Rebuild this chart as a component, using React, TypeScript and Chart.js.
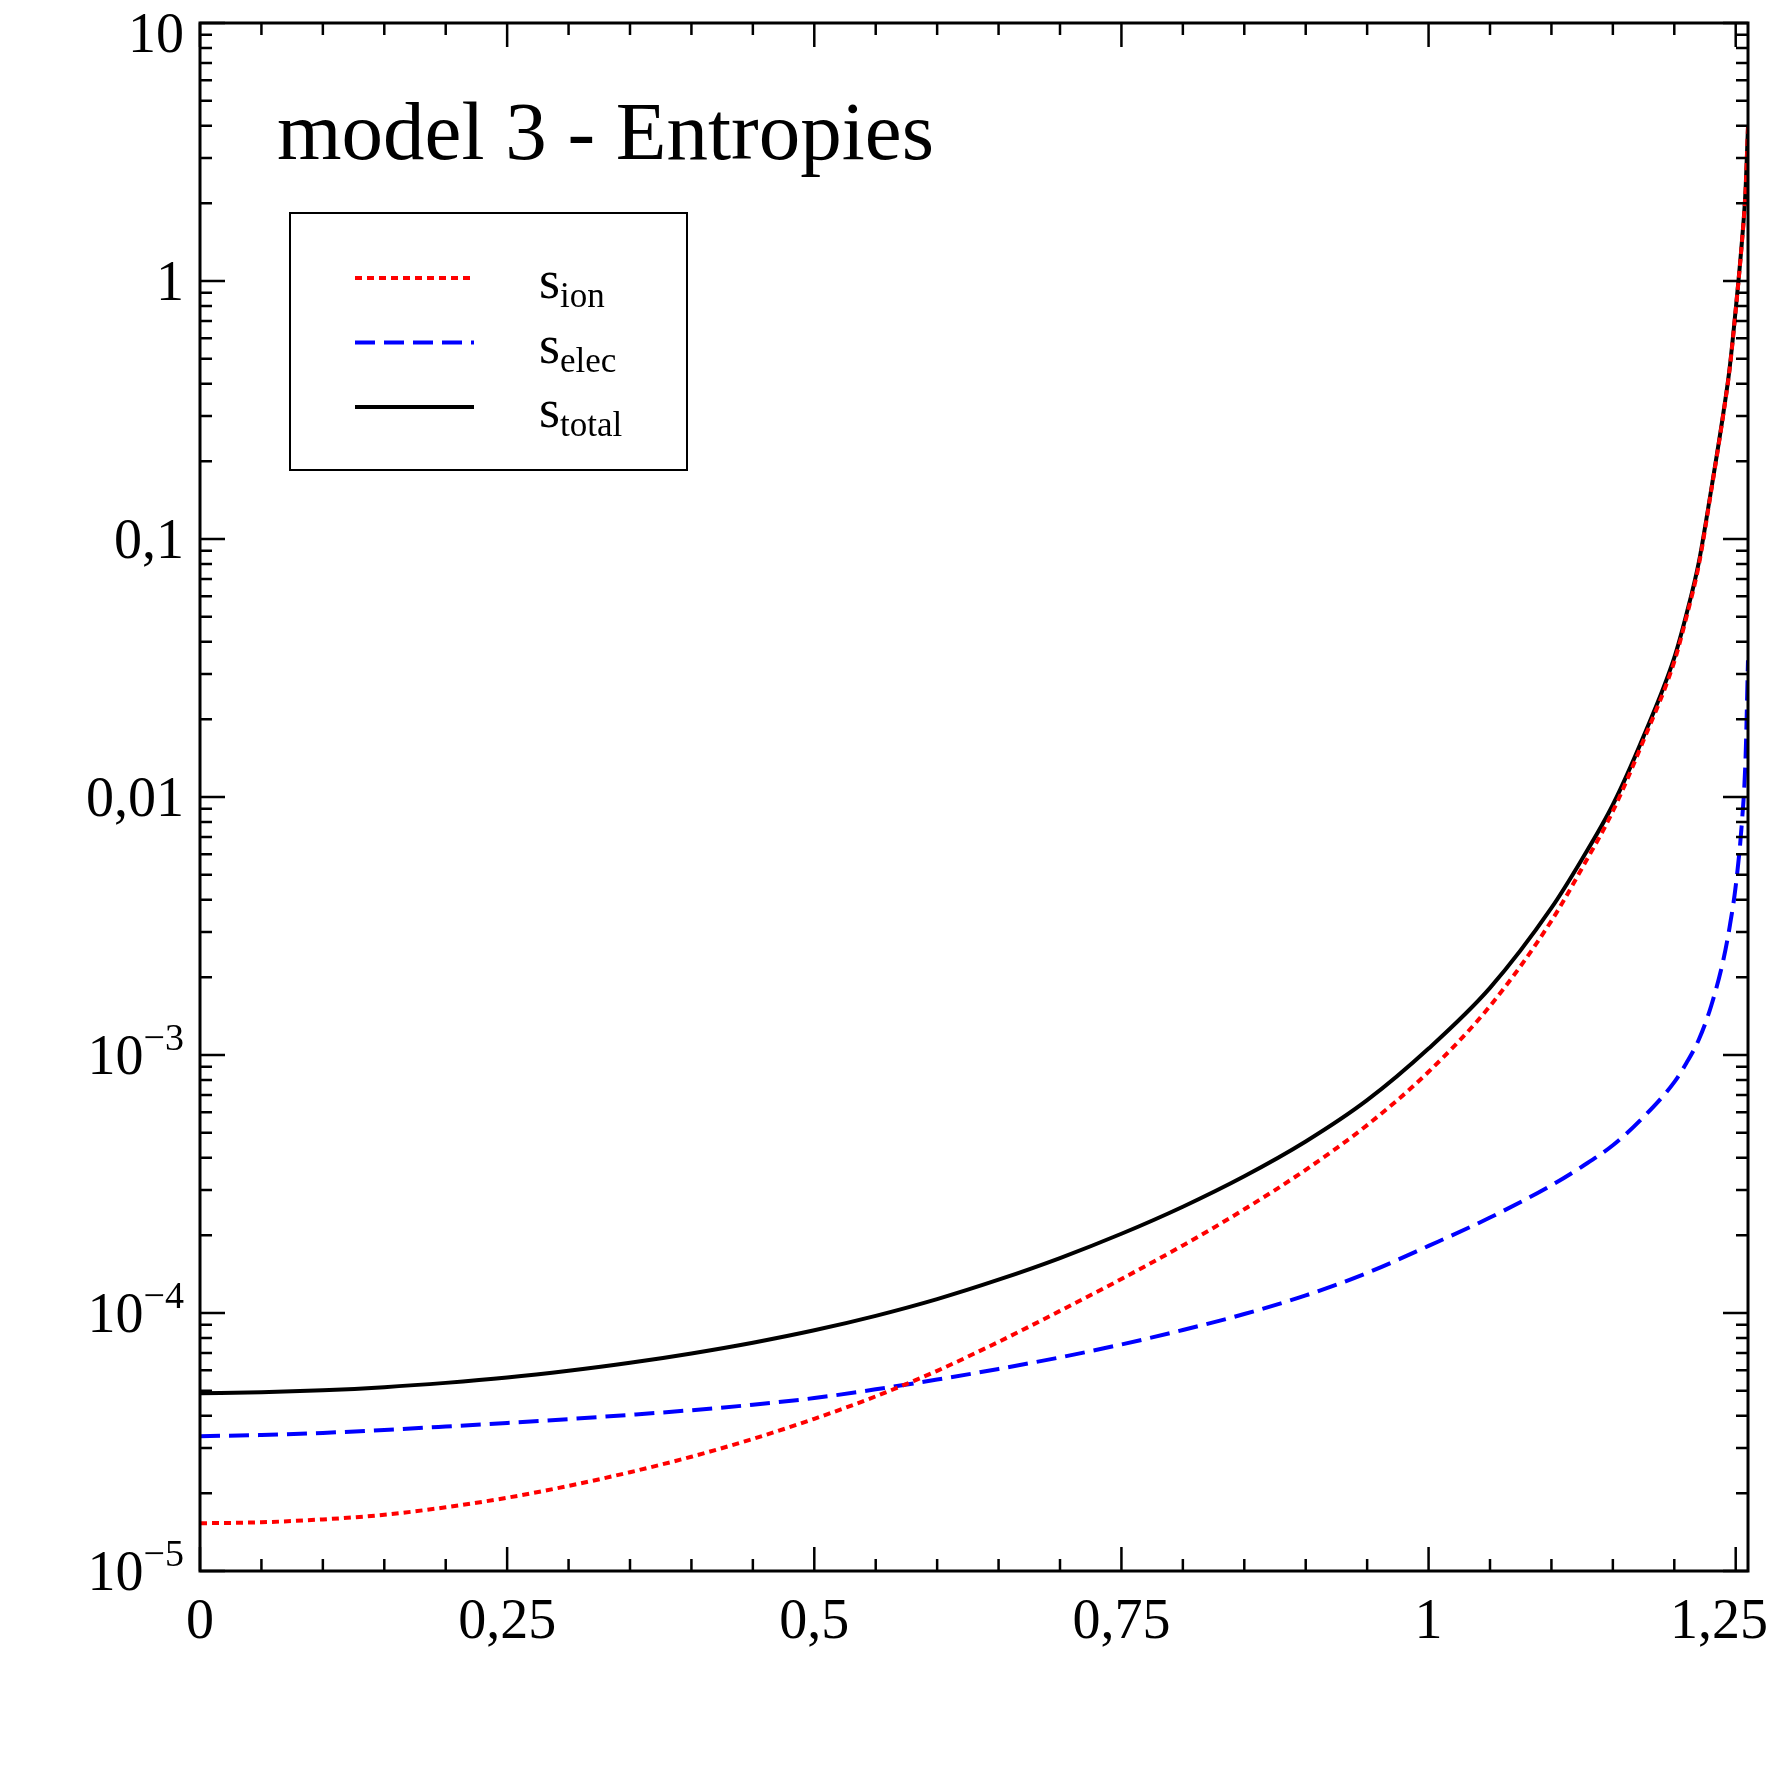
import { useEffect, useRef } from 'react'
import { Chart, registerables } from 'chart.js'
Chart.register(...registerables)

// values
const xValues = [
  0, 0.05, 0.1, 0.15, 0.2, 0.25, 0.3, 0.35, 0.4, 0.45, 0.5, 0.55, 0.6, 0.65, 0.7, 0.75,
  0.8, 0.85, 0.9, 0.95, 1.0, 1.05, 1.1, 1.125, 1.15, 1.175, 1.2, 1.21, 1.22, 1.23, 1.24,
  1.245, 1.25, 1.255, 1.258, 1.26,
]
const sIon = [
  1.531e-5, 1.545e-5, 1.585e-5, 1.652e-5, 1.766e-5, 1.923e-5, 2.138e-5, 2.415e-5, 2.773e-5,
  3.251e-5, 3.89e-5, 4.753e-5, 5.97e-5, 7.73e-5, 1.019e-4, 1.355e-4, 1.828e-4, 2.523e-4,
  3.59e-4, 5.35e-4, 8.61e-4, 1.549e-3, 3.311e-3, 5.31e-3, 8.81e-3, 0.0166, 0.0335, 0.0501,
  0.0794, 0.1531, 0.3062, 0.4529, 0.7709, 1.403, 2.223, 3.945,
]
const sElec = [
  3.33e-5, 3.365e-5, 3.43e-5, 3.52e-5, 3.63e-5, 3.75e-5, 3.88e-5, 4.03e-5, 4.2e-5, 4.41e-5,
  4.68e-5, 5.06e-5, 5.52e-5, 6.07e-5, 6.73e-5, 7.55e-5, 8.59e-5, 9.91e-5, 1.17e-4, 1.43e-4,
  1.82e-4, 2.344e-4, 3.126e-4, 3.698e-4, 4.467e-4, 5.754e-4, 7.852e-4, 9.33e-4, 1.148e-3,
  1.549e-3, 2.344e-3, 3.126e-3, 4.519e-3, 7.94e-3, 0.0141, 0.0339,
]
const sTotal = [
  4.89e-5, 4.93e-5, 5.02e-5, 5.16e-5, 5.36e-5, 5.62e-5, 5.97e-5, 6.41e-5, 6.97e-5, 7.67e-5,
  8.57e-5, 9.75e-5, 1.132e-4, 1.346e-4, 1.633e-4, 2.028e-4, 2.582e-4, 3.388e-4, 4.62e-4,
  6.68e-4, 1.059e-3, 1.82e-3, 3.715e-3, 5.75e-3, 9.33e-3, 0.01718, 0.03467, 0.0513, 0.0813,
  0.1549, 0.309, 0.457, 0.776, 1.413, 2.239, 3.98,
]
const xTickValues = [0, 0.25, 0.5, 0.75, 1, 1.25]
const xTickLabels = ['0', '0,25', '0,5', '0,75', '1', '1,25']
const yTickValues = [1e-5, 1e-4, 1e-3, 0.01, 0.1, 1, 10]
const yTickLabels = ['10^\u22125', '10^\u22124', '10^\u22123', '0,01', '0,1', '1', '10']
const legendSubs = ['ion', 'elec', 'total']
const title = 'model 3 - Entropies'

const FONT = '"Liberation Serif", "Times New Roman", serif'

const decorPlugin = {
  id: 'decor',
  afterDraw(chart: any) {
    const { ctx, chartArea: a, scales } = chart
    const xs = scales.x
    const ys = scales.y
    ctx.save()
    ctx.strokeStyle = '#000'
    ctx.fillStyle = '#000'
    ctx.setLineDash([])

    // frame
    ctx.lineWidth = 3
    ctx.strokeRect(a.left, a.top, a.right - a.left, a.bottom - a.top)

    // inward ticks on all four sides
    ctx.lineWidth = 2.5
    ctx.beginPath()
    for (let i = 0; i <= 25; i++) {
      const px = xs.getPixelForValue(i * 0.05)
      const len = i % 5 === 0 ? 24 : 12
      ctx.moveTo(px, a.bottom); ctx.lineTo(px, a.bottom - len)
      ctx.moveTo(px, a.top); ctx.lineTo(px, a.top + len)
    }
    for (let k = -5; k <= 1; k++) {
      for (let m = 1; m <= 9; m++) {
        if (k === 1 && m > 1) break
        const py = ys.getPixelForValue(m * Math.pow(10, k))
        const len = m === 1 ? 25 : 12
        ctx.moveTo(a.left, py); ctx.lineTo(a.left + len, py)
        ctx.moveTo(a.right, py); ctx.lineTo(a.right - len, py)
      }
    }
    ctx.stroke()

    // x tick labels
    ctx.font = `56px ${FONT}`
    ctx.textBaseline = 'alphabetic'
    ctx.textAlign = 'left'
    xTickValues.forEach((v, i) => {
      const label = xTickLabels[i]
      const w = ctx.measureText(label).width
      let left = xs.getPixelForValue(v) - w / 2
      if (left + w > chart.width - 3) left = chart.width - 3 - w
      ctx.fillText(label, left, a.bottom + 67)
    })

    // y tick labels (with superscripts)
    const right = a.left - 16
    yTickValues.forEach((v, i) => {
      const py = ys.getPixelForValue(v)
      const base = Math.max(py + 19, 52)
      const [main, exp] = yTickLabels[i].split('^')
      ctx.textAlign = 'right'
      if (exp) {
        ctx.font = `38px ${FONT}`
        const ew = ctx.measureText(exp).width
        ctx.textAlign = 'left'
        ctx.fillText(exp, right - ew, py - 5)
        ctx.font = `56px ${FONT}`
        ctx.textAlign = 'right'
        ctx.fillText(main, right - ew, base)
      } else {
        ctx.font = `56px ${FONT}`
        ctx.fillText(main, right, base)
      }
    })

    // title
    ctx.textAlign = 'left'
    ctx.font = `83px ${FONT}`
    ctx.fillText(title, 277, 159)

    // legend
    ctx.lineWidth = 2
    ctx.fillStyle = '#fff'
    ctx.fillRect(290, 213, 397, 257)
    ctx.strokeStyle = '#000'
    ctx.strokeRect(290, 213, 397, 257)
    chart.data.datasets.forEach((ds: any, i: number) => {
      const ly = 278 + i * 64.5
      ctx.save()
      ctx.strokeStyle = ds.borderColor
      ctx.lineWidth = ds.borderWidth
      ctx.setLineDash(ds.borderDash || [])
      ctx.beginPath()
      ctx.moveTo(355, ly)
      ctx.lineTo(474, ly)
      ctx.stroke()
      ctx.restore()
      ctx.fillStyle = '#000'
      ctx.font = `54px ${FONT}`
      ctx.fillText('s', 539, ly + 20)
      const sw = ctx.measureText('s').width
      ctx.font = `35px ${FONT}`
      ctx.fillText(legendSubs[i], 539 + sw, ly + 29)
    })
    ctx.restore()
  },
}

export default function App() {
  const ref = useRef<HTMLCanvasElement | null>(null)
  useEffect(() => {
    if (!ref.current) return
    const ctx = ref.current.getContext('2d')!
    const pts = (ys: number[]) => xValues.map((x, i) => ({ x, y: ys[i] }))
    const chart = new Chart(ctx, {
      type: 'line',
      data: {
        datasets: [
          { label: 'sion', data: pts(sIon), borderColor: '#ff0000', borderWidth: 4, borderDash: [7, 5], pointRadius: 0, cubicInterpolationMode: 'monotone' },
          { label: 'selec', data: pts(sElec), borderColor: '#0000ff', borderWidth: 4, borderDash: [20, 9], pointRadius: 0, cubicInterpolationMode: 'monotone' },
          { label: 'stotal', data: pts(sTotal), borderColor: '#000000', borderWidth: 4, pointRadius: 0, cubicInterpolationMode: 'monotone' },
        ],
      },
      options: {
        responsive: false,
        animation: false,
        devicePixelRatio: 1,
        layout: { padding: { top: 23, right: 23, left: 0, bottom: 0 } },
        plugins: { legend: { display: false }, tooltip: { enabled: false } },
        scales: {
          x: {
            type: 'linear', min: 0, max: 1.26,
            ticks: { display: false }, grid: { display: false }, border: { display: false },
            afterFit: (s: any) => { s.height = 200 },
          },
          y: {
            type: 'logarithmic', min: 1e-5, max: 10,
            ticks: { display: false }, grid: { display: false }, border: { display: false },
            afterFit: (s: any) => { s.width = 200 },
          },
        },
      },
      plugins: [decorPlugin],
    } as any)
    return () => chart.destroy()
  }, [])
  return (
    <div style={{ position: 'absolute', left: 0, top: 0, width: 1771, height: 1771, background: '#fff' }}>
      <canvas ref={ref} width={1771} height={1771} style={{ display: 'block' }} />
    </div>
  )
}
